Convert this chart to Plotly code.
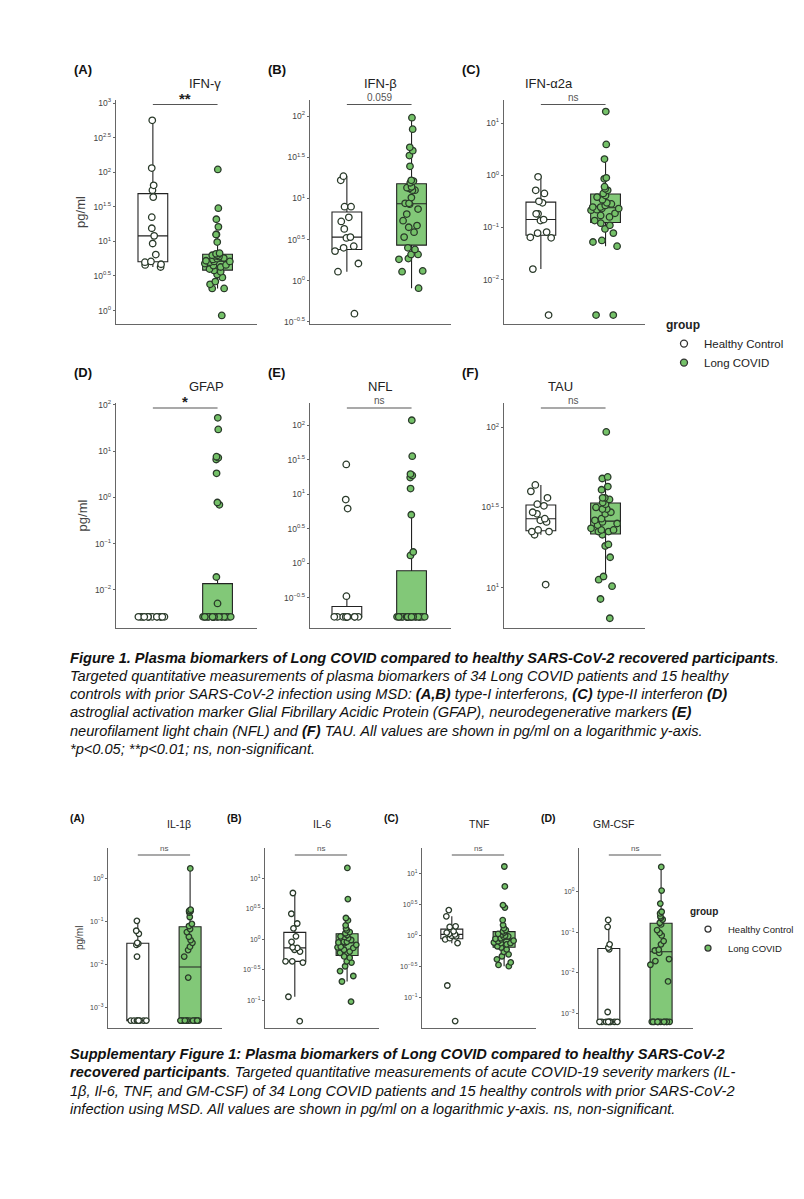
import numpy as np
import plotly.graph_objects as go

# values, as log10(pg/ml)
ifng_hc = [2.75, 2.06, 1.81, 1.74, 1.64, 1.35, 1.19, 1.08, 0.97, 0.81, 0.71, 0.67, 0.63, 0.66, 0.70]
ifng_lc = [2.04, 1.48, 1.32, 1.21, 1.10, 1.10, 0.99, 0.83, 0.82, 0.80, 0.80, 0.79, 0.78, 0.76, 0.75, 0.74, 0.72,
           0.71, 0.71, 0.70, 0.68, 0.66, 0.65, 0.63, 0.60, 0.58, 0.56, 0.52, 0.48, 0.42, 0.38, 0.32, 0.32, -0.07]
ifnb_hc = [1.27, 1.22, 0.90, 0.90, 0.77, 0.72, 0.63, 0.53, 0.52, 0.40, 0.42, 0.36, 0.21, 0.11, -0.40]
ifnb_lc = [1.98, 1.84, 1.62, 1.58, 1.52, 1.39, 1.22, 1.21, 1.19, 1.14, 1.13, 1.12, 1.10, 1.10, 1.01, 0.94, 0.94,
           0.93, 0.87, 0.81, 0.73, 0.67, 0.65, 0.59, 0.53, 0.40, 0.38, 0.32, 0.32, 0.27, 0.26, 0.12, 0.11, -0.09]
ifna_hc = [-0.03, -0.29, -0.35, -0.50, -0.53, -0.74, -0.74, -0.85, -0.87, -1.09, -1.11, -1.19, -1.20, -1.80, -2.68]
ifna_lc = [1.22, 0.59, 0.31, -0.05, -0.07, -0.22, -0.26, -0.29, -0.35, -0.39, -0.42, -0.47, -0.53, -0.55, -0.58,
           -0.61, -0.61, -0.64, -0.64, -0.66, -0.67, -0.73, -0.77, -0.80, -0.87, -0.92, -0.96, -1.03, -1.11, -1.25,
           -1.28, -1.36, -2.68, -2.68]
gfap_hc = [-2.58] * 15
gfap_lc = [1.72, 1.47, 0.88, 0.86, 0.82, 0.52, -0.11, -0.16, -1.72, -2.29] + [-2.58] * 24
nfl_hc = [1.43, 0.92, 0.79, -0.48] + [-0.78] * 11
nfl_lc = [2.07, 1.55, 1.29, 1.27, 1.24, 1.08, 0.70, 0.16, 0.11] + [-0.78] * 25
tau_hc = [1.64, 1.60, 1.56, 1.52, 1.51, 1.47, 1.46, 1.43, 1.42, 1.41, 1.36, 1.35, 1.35, 1.33, 1.02]
tau_lc = [1.97, 1.69, 1.68, 1.63, 1.61, 1.56, 1.56, 1.55, 1.53, 1.52, 1.50, 1.49, 1.49, 1.47, 1.46, 1.43, 1.42,
          1.41, 1.40, 1.39, 1.37, 1.36, 1.36, 1.35, 1.35, 1.33, 1.27, 1.26, 1.19, 1.07, 1.05, 1.01, 0.93, 0.81]
il1b_hc = [-0.98, -1.21, -1.28, -1.49, -1.51, -1.54, -1.81] + [-3.30] * 8
il1b_lc = [0.24, -0.72, -0.74, -0.75, -0.76, -0.79, -0.89, -1.05, -1.10, -1.17, -1.24, -1.35, -1.43, -1.49, -1.58,
           -1.66, -1.81, -2.30] + [-3.30] * 16
il6_hc = [0.76, 0.42, 0.26, 0.18, 0.05, -0.04, -0.13, -0.14, -0.17, -0.20, -0.36, -0.36, -0.38, -0.94, -1.34]
il6_lc = [1.17, 0.66, 0.35, 0.31, 0.23, 0.18, 0.15, 0.12, 0.10, 0.07, 0.05, 0.04, 0.02, -0.01, -0.04, -0.04, -0.05,
          -0.06, -0.09, -0.12, -0.13, -0.14, -0.17, -0.20, -0.22, -0.28, -0.30, -0.36, -0.38, -0.44, -0.52, -0.60,
          -0.69, -1.02]
tnf_hc = [0.41, 0.31, 0.15, 0.14, 0.07, 0.05, 0.03, 0.02, 0.0, -0.01, -0.04, -0.06, -0.12, -0.80, -1.37]
tnf_lc = [1.11, 0.79, 0.49, 0.45, 0.25, 0.17, 0.12, 0.09, 0.07, 0.05, 0.03, 0.02, 0.0, -0.01, -0.02, -0.04, -0.05,
          -0.06, -0.08, -0.09, -0.11, -0.12, -0.12, -0.14, -0.17, -0.19, -0.22, -0.26, -0.30, -0.33, -0.38, -0.43,
          -0.47, -0.49]
gmcsf_hc = [-0.70, -0.87, -1.30, -1.38, -1.42, -2.96] + [-3.20] * 9
gmcsf_lc = [0.60, 0.02, -0.30, -0.50, -0.54, -0.61, -0.65, -0.69, -0.77, -0.81, -0.95, -1.02, -1.08, -1.22, -1.30,
            -1.43, -1.45, -1.51, -1.66, -1.71, -1.80, -2.21] + [-3.20] * 12

groups = ["Healthy Control", "Long COVID"]
fills = ["white", "#74c168"]
box_fills = ["white", "#82c878"]

W, H = 804, 1199

# panel: (title, label, hc, lc, x px, y px, tick exps, range, sig text, sig size, pg/ml title, small)
panels = [
    ("IFN-γ", "(A)", ifng_hc, ifng_lc, (108, 249), (88, 314), [0, 0.5, 1, 1.5, 2, 2.5, 3], [-0.2, 3.05], "<b>**</b>", 15, True, False),
    ("IFN-β", "(B)", ifnb_hc, ifnb_lc, (302, 443), (88, 314), [-0.5, 0, 0.5, 1, 1.5, 2], [-0.53, 2.2], "0.059", 10, False, False),
    ("IFN-α2a", "(C)", ifna_hc, ifna_lc, (496, 637), (88, 314), [-2, -1, 0, 1], [-2.86, 1.45], "ns", 10, False, False),
    ("GFAP", "(D)", gfap_hc, gfap_lc, (108, 249), (393, 619), [-2, -1, 0, 1, 2], [-2.82, 2.04], "<b>*</b>", 15, True, False),
    ("NFL", "(E)", nfl_hc, nfl_lc, (302, 443), (393, 619), [-0.5, 0, 0.5, 1, 1.5, 2], [-0.94, 2.32], "ns", 10, False, False),
    ("TAU", "(F)", tau_hc, tau_lc, (496, 637), (393, 619), [1, 1.5, 2], [0.75, 2.15], "ns", 10, False, False),
    ("IL-1β", "(A)", il1b_hc, il1b_lc, (100, 214), (840, 1021), [-3, -2, -1, 0], [-3.47, 0.72], "ns", 8, True, True),
    ("IL-6", "(B)", il6_hc, il6_lc, (257, 371), (840, 1021), [-1, -0.5, 0, 0.5, 1], [-1.45, 1.5], "ns", 8, False, True),
    ("TNF", "(C)", tnf_hc, tnf_lc, (414, 528), (840, 1021), [-1, -0.5, 0, 0.5, 1], [-1.48, 1.41], "ns", 8, False, True),
    ("GM-CSF", "(D)", gmcsf_hc, gmcsf_lc, (571, 685), (840, 1021), [-3, -2, -1, 0], [-3.35, 1.07], "ns", 8, False, True),
]


def box_stats(logs):
    v = np.array(logs)
    q1, med, q3 = np.percentile(v, [25, 50, 75])
    iqr = q3 - q1
    lo = v[v >= q1 - 1.5 * iqr].min()
    hi = v[v <= q3 + 1.5 * iqr].max()
    return [10 ** s for s in (q1, med, q3, lo, hi)]


def fmt_exp(e):
    s = ("%g" % e).replace("-", "−")
    return "10<sup>%s</sup>" % s


fig = go.Figure()
layout = {}
annotations = []
shapes = []

for i, (title, label, hc, lc, xp, yp, ticks, yr, sig, sigsize, ytitle, small) in enumerate(panels):
    n = "" if i == 0 else str(i + 1)
    xa, ya = "x" + n, "y" + n
    bw = 0.42 if small else 0.46
    msize = 5.5 if small else 6.5
    for g, vals in enumerate([hc, lc]):
        q1, med, q3, lo, hi = box_stats(vals)
        fig.add_trace(go.Box(
            x=[g], q1=[q1], median=[med], q3=[q3], lowerfence=[lo], upperfence=[hi],
            boxpoints=False, width=bw, whiskerwidth=0, fillcolor=box_fills[g],
            line=dict(color="#222", width=1.1), xaxis=xa, yaxis=ya, showlegend=False,
        ))
        fig.add_trace(go.Box(
            x=[g] * len(vals), y=[10 ** v for v in vals], boxpoints="all", jitter=1.0,
            pointpos=0, width=bw, fillcolor="rgba(0,0,0,0)", line=dict(width=0),
            marker=dict(size=msize, color=fills[g], line=dict(color="#2a3a2a", width=1.3)),
            xaxis=xa, yaxis=ya, showlegend=False,
        ))
    layout["xaxis" + n] = dict(
        domain=[xp[0] / W, xp[1] / W], anchor=ya, range=[-0.57, 1.61], showticklabels=False,
        showgrid=False, zeroline=False, showline=True, linecolor="#666", linewidth=1.3, ticks="",
    )
    layout["yaxis" + n] = dict(
        domain=[1 - yp[1] / H, 1 - yp[0] / H], anchor=xa, type="log", range=yr,
        tickvals=[10 ** t for t in ticks], ticktext=[fmt_exp(t) for t in ticks],
        tickfont=dict(size=7 if small else 8.5, color="#444"), showgrid=False, zeroline=False,
        showline=True, linecolor="#666", linewidth=1.3, ticks="outside", ticklen=2, tickcolor="#666",
    )
    if ytitle:
        layout["yaxis" + n]["title"] = dict(text="pg/ml", font=dict(size=10 if small else 13, color="#444"),
                                            standoff=4)
    # significance bar
    sy = 0.96 if small else 0.978
    shapes.append(dict(type="line", xref=xa, yref=ya + " domain", x0=0, x1=1, y0=sy, y1=sy,
                       line=dict(color="#555", width=1.2)))
    annotations.append(dict(text=sig, xref=xa, yref=ya + " domain", x=0.5, y=sy, yanchor="bottom",
                            yshift=-4 if "*" in sig else 0, showarrow=False,
                            font=dict(size=sigsize, color="#222" if "*" in sig else "#555")))
    # title and panel label
    tsize = 10.5 if small else 13
    annotations.append(dict(text=title, xref="paper", yref="paper", x=(xp[0] + xp[1]) / 2 / W,
                            y=1 - (yp[0] - (16 if small else 26)) / H, showarrow=False,
                            font=dict(size=tsize, color="#222")))
    annotations.append(dict(text="<b>%s</b>" % label, xref="paper", yref="paper",
                            x=(xp[0] - (40 if small else 44)) / W, xanchor="left",
                            y=1 - (yp[0] - (22 if small else 40)) / H, showarrow=False,
                            font=dict(size=tsize, color="#111")))

# legend entries
for g in range(2):
    for lg in ["legend", "legend2"]:
        fig.add_trace(go.Scatter(
            x=[None], y=[None], mode="markers", name=groups[g], legend=lg,
            marker=dict(size=7 if lg == "legend" else 6, color=fills[g], line=dict(color="#333", width=1.3)),
        ))

fig_caption = [
    "<b>Figure 1. Plasma biomarkers of Long COVID compared to healthy SARS-CoV-2 recovered participants</b>.",
    "Targeted quantitative measurements of plasma biomarkers of 34 Long COVID patients and 15 healthy",
    "controls with prior SARS-CoV-2 infection using MSD: <b>(A,B)</b> type-I interferons, <b>(C)</b> type-II interferon <b>(D)</b>",
    "astroglial activation marker Glial Fibrillary Acidic Protein (GFAP), neurodegenerative markers <b>(E)</b>",
    "neurofilament light chain (NFL) and <b>(F)</b> TAU. All values are shown in pg/ml on a logarithmic y-axis.",
    "*p&lt;0.05; **p&lt;0.01; ns, non-significant.",
]
supp_caption = [
    "<b>Supplementary Figure 1: Plasma biomarkers of Long COVID compared to healthy SARS-CoV-2</b>",
    "<b>recovered participants</b>. Targeted quantitative measurements of acute COVID-19 severity markers (IL-",
    "1β, Il-6, TNF, and GM-CSF) of 34 Long COVID patients and 15 healthy controls with prior SARS-CoV-2",
    "infection using MSD. All values are shown in pg/ml on a logarithmic y-axis. ns, non-significant.",
]
for k, line in enumerate(fig_caption):
    annotations.append(dict(text="<i>%s</i>" % line, xref="paper", yref="paper", x=60 / W, xanchor="left",
                            y=1 - (649 + 18.3 * k) / H, showarrow=False,
                            font=dict(size=14.6, color="#111", family="Liberation Sans")))
for k, line in enumerate(supp_caption):
    annotations.append(dict(text="<i>%s</i>" % line, xref="paper", yref="paper", x=60 / W, xanchor="left",
                            y=1 - (1057 + 18.5 * k) / H, showarrow=False,
                            font=dict(size=14.6, color="#111", family="Liberation Sans")))

fig.update_layout(
    width=W, height=H, margin=dict(l=0, r=0, t=0, b=0),
    plot_bgcolor="white", paper_bgcolor="white",
    font=dict(family="Liberation Sans, Arial, sans-serif"),
    shapes=shapes, annotations=annotations,
    legend=dict(x=656 / W, y=1 - 303 / H, xanchor="left", yanchor="top", title=dict(text="<b>group</b>", font=dict(size=12)),
                font=dict(size=11.5, color="#222"), tracegroupgap=8, bgcolor="rgba(0,0,0,0)"),
    legend2=dict(x=680 / W, y=1 - 894 / H, xanchor="left", yanchor="top", title=dict(text="<b>group</b>", font=dict(size=10)),
                 font=dict(size=9.5, color="#222"), bgcolor="rgba(0,0,0,0)"),
    **layout,
)

fig.write_html("out.html")
